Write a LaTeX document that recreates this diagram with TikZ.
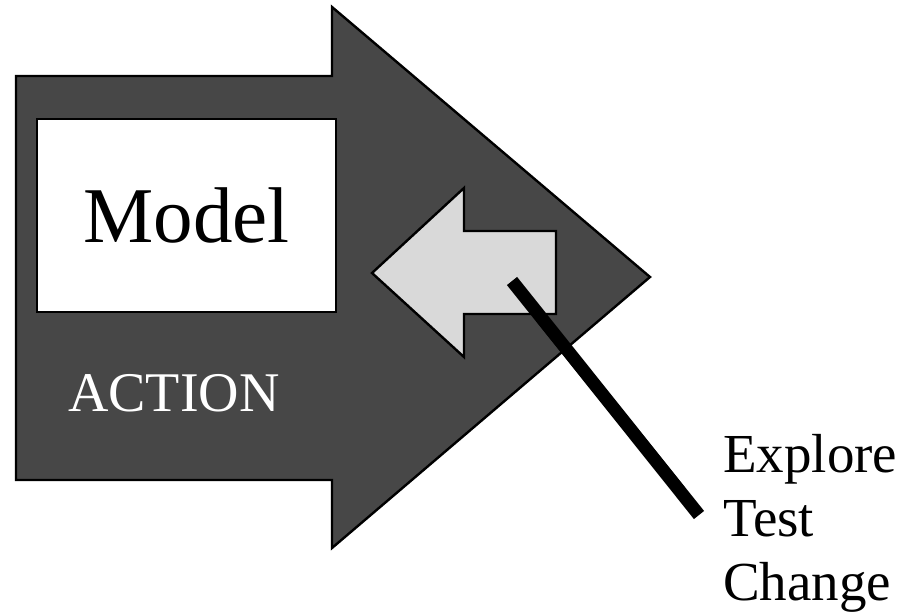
\documentclass[tikz,border=0pt]{standalone}
\usepackage{fontspec}
\setmainfont{Liberation Serif}
\begin{document}
\begin{tikzpicture}[x=1pt,y=-1pt,
  outline/.style={draw=black,line width=2.4pt,line join=miter},
  bigarrow/.style={outline,fill=darkfill},
  smallarrow/.style={outline,fill=lightfill},
  lbl/.style={inner sep=0pt,anchor=base west,font=\fontsize{55}{64}\selectfont}]
\definecolor{darkfill}{HTML}{474747}
\definecolor{lightfill}{HTML}{D9D9D9}
\useasboundingbox (0,0) rectangle (910,615);
% big action arrow
\draw[bigarrow] (16,76) -- (332,76) -- (332,7) -- (650,277) -- (332,548) -- (332,480) -- (16,480) -- cycle;
% model box
\node[outline,fill=white,inner sep=0pt,minimum width=299pt,minimum height=193pt,
      font=\fontsize{79}{80}\selectfont] (model) at (186.5,215.5) {Model};
% action label
\node[inner sep=0pt,anchor=base west,text=white,font=\fontsize{56}{60}\selectfont] (action) at (68,411) {ACTION};
% small feedback arrow
\draw[smallarrow] (556,231) -- (464,231) -- (464,188) -- (372,273) -- (464,357) -- (464,314) -- (556,314) -- cycle;
% pointer line
\coordinate (p1) at (512,281);
\coordinate (p2) at (699,515);
\draw[line width=13pt] (p1) -- (p2);
% labels
\node[lbl] (explore) at (723,472) {Explore};
\node[lbl] (test) at (723,536) {Test};
\node[lbl] (change) at (723,600) {Change};
\end{tikzpicture}
\end{document}
